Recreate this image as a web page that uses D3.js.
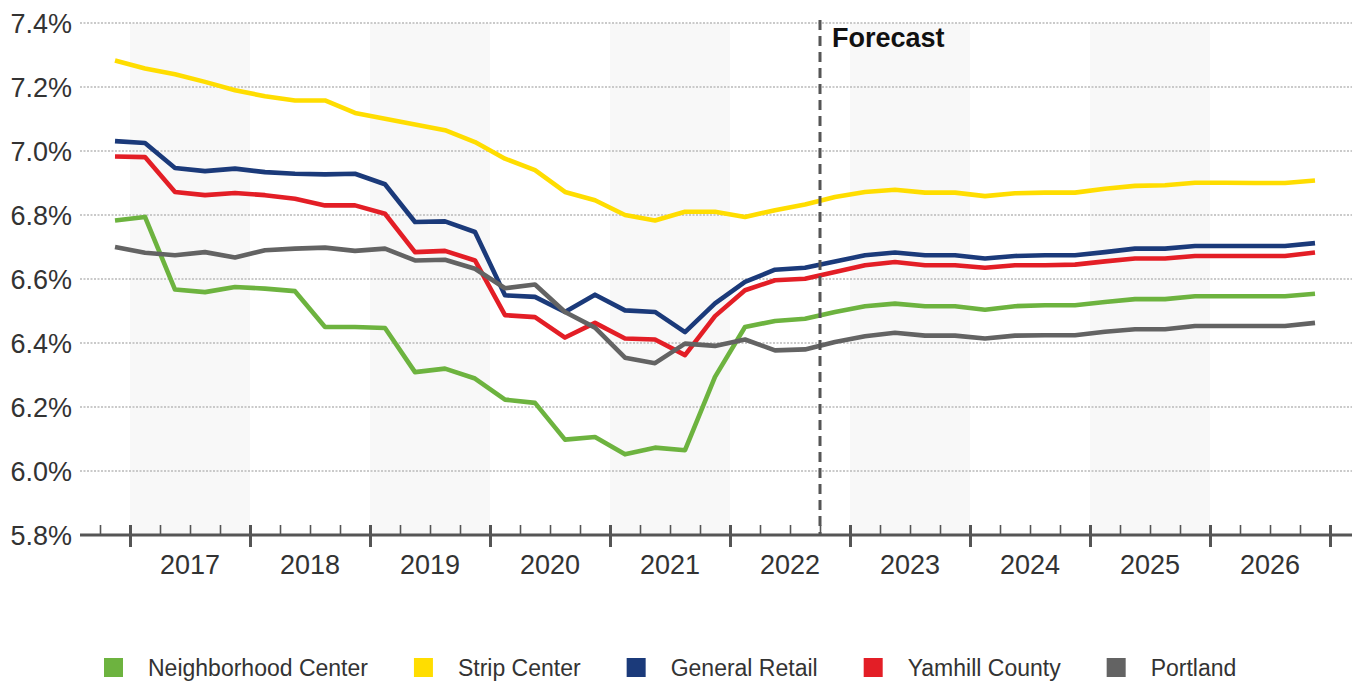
<!DOCTYPE html>
<html>
<head>
<meta charset="utf-8">
<script src="https://cdn.jsdelivr.net/npm/d3@7"></script>
<style>
  html, body { margin: 0; padding: 0; background: #ffffff; }
  svg { display: block; font-family: "Liberation Sans", Arial, Helvetica, sans-serif; }
</style>
</head>
<body>
<svg id="chart" width="1362" height="686"></svg>
<script>
// Quarterly retail cap rates, 2016 Q4 through 2026 Q4 (forecast from 2022 Q4)
const quarters = [
  "2016Q4",
  "2017Q1","2017Q2","2017Q3","2017Q4",
  "2018Q1","2018Q2","2018Q3","2018Q4",
  "2019Q1","2019Q2","2019Q3","2019Q4",
  "2020Q1","2020Q2","2020Q3","2020Q4",
  "2021Q1","2021Q2","2021Q3","2021Q4",
  "2022Q1","2022Q2","2022Q3","2022Q4",
  "2023Q1","2023Q2","2023Q3","2023Q4",
  "2024Q1","2024Q2","2024Q3","2024Q4",
  "2025Q1","2025Q2","2025Q3","2025Q4",
  "2026Q1","2026Q2","2026Q3","2026Q4"
];

const neighborhoodCenter = [
  6.783,
  6.794, 6.567, 6.559, 6.575,
  6.570, 6.562, 6.450, 6.450,
  6.447, 6.309, 6.320, 6.289,
  6.223, 6.213, 6.098, 6.106,
  6.052, 6.073, 6.065, 6.294,
  6.450, 6.469, 6.476, 6.497,
  6.515, 6.523, 6.515, 6.515,
  6.504, 6.515, 6.518, 6.518,
  6.528, 6.537, 6.537, 6.546,
  6.546, 6.546, 6.546, 6.554
];

const stripCenter = [
  7.283,
  7.258, 7.240, 7.216, 7.190,
  7.171, 7.158, 7.158, 7.119,
  7.101, 7.083, 7.065, 7.028,
  6.976, 6.940, 6.872, 6.846,
  6.800, 6.783, 6.810, 6.810,
  6.794, 6.815, 6.833, 6.856,
  6.872, 6.879, 6.870, 6.870,
  6.859, 6.868, 6.870, 6.870,
  6.882, 6.891, 6.893, 6.901,
  6.901, 6.900, 6.900, 6.908
];

const generalRetail = [
  7.031,
  7.025, 6.947, 6.937, 6.945,
  6.934, 6.929, 6.927, 6.929,
  6.896, 6.778, 6.780, 6.747,
  6.549, 6.544, 6.497, 6.551,
  6.502, 6.497, 6.434, 6.524,
  6.591, 6.629, 6.635, 6.655,
  6.674, 6.683, 6.674, 6.674,
  6.664, 6.672, 6.674, 6.674,
  6.684, 6.695, 6.695, 6.703,
  6.703, 6.703, 6.703, 6.712
];

const yamhillCounty = [
  6.983,
  6.981, 6.872, 6.862, 6.869,
  6.862, 6.851, 6.830, 6.830,
  6.804, 6.684, 6.688, 6.658,
  6.487, 6.481, 6.417, 6.463,
  6.414, 6.411, 6.362, 6.484,
  6.565, 6.596, 6.601, 6.622,
  6.643, 6.653, 6.643, 6.643,
  6.635, 6.643, 6.643, 6.645,
  6.655, 6.664, 6.664, 6.672,
  6.672, 6.672, 6.672, 6.683
];

const portland = [
  6.700,
  6.682, 6.674, 6.684, 6.667,
  6.690, 6.695, 6.698, 6.688,
  6.695, 6.658, 6.660, 6.632,
  6.571, 6.583, 6.497, 6.448,
  6.354, 6.337, 6.398, 6.391,
  6.411, 6.377, 6.380, 6.403,
  6.421, 6.432, 6.423, 6.423,
  6.414, 6.423, 6.424, 6.424,
  6.435, 6.443, 6.443, 6.453,
  6.453, 6.453, 6.453, 6.463
];

const seriesNames = ["Neighborhood Center", "Strip Center", "General Retail", "Yamhill County", "Portland"];
const seriesColors = ["#6db33f", "#ffdd00", "#1b3a7a", "#e31e26", "#636363"];
const seriesValues = [neighborhoodCenter, stripCenter, generalRetail, yamhillCounty, portland];

const yTicks = [5.8, 6.0, 6.2, 6.4, 6.6, 6.8, 7.0, 7.2, 7.4];
const yearLabels = ["2017","2018","2019","2020","2021","2022","2023","2024","2025","2026"];
const forecastStart = "2022Q4";
const forecastLabel = "Forecast";

// ---- layout ----
const svg = d3.select("#chart");
const plotLeft = 80, plotRight = 1352, plotTop = 23, plotBottom = 535;

// time expressed as fractional years; a quarter's point sits at its midpoint
const qStart = q => +q.slice(0, 4) + (+q.slice(5) - 1) * 0.25;
const qMid = q => qStart(q) + 0.125;

const x = d3.scaleLinear().domain([2017, 2027]).range([130, 1330]);
const y = d3.scaleLinear().domain([5.8, 7.4]).range([plotBottom, plotTop]);

// alternating year bands (very faint)
const bandYears = yearLabels.filter((d, i) => i % 2 === 0).map(Number);
svg.append("g").selectAll("rect").data(bandYears).join("rect")
  .attr("x", d => x(d))
  .attr("width", d => x(d + 1) - x(d))
  .attr("y", plotTop)
  .attr("height", plotBottom - plotTop)
  .attr("fill", "#f8f8f8");

// horizontal dotted gridlines
svg.append("g").selectAll("line").data(yTicks.slice(1)).join("line")
  .attr("x1", plotLeft).attr("x2", plotRight)
  .attr("y1", d => y(d)).attr("y2", d => y(d))
  .attr("stroke", "#b9b9b9")
  .attr("stroke-width", 1.5)
  .attr("stroke-dasharray", "2,1.5");

// y axis labels
const yAxis = d3.axisLeft(y).tickValues(yTicks).tickSize(0).tickPadding(0)
  .tickFormat(d => d3.format(".1f")(d) + "%");
const yg = svg.append("g").attr("transform", `translate(${plotLeft - 8},0)`).call(yAxis);
yg.select(".domain").remove();
yg.selectAll("text")
  .attr("fill", "#333")
  .attr("font-size", 27)
  .attr("dy", "0.36em")
  .style("font-family", "'Liberation Sans', Arial, sans-serif");

// x axis: baseline, quarter ticks, year ticks
const xMinorVals = d3.range(2016.75, 2027.01, 0.25).filter(t => Math.abs(t - Math.round(t)) > 1e-6);
const xMajorVals = d3.range(2017, 2027.01, 1);

const xMinor = d3.axisBottom(x).tickValues(xMinorVals).tickSize(-10).tickFormat("");
const gm = svg.append("g").attr("transform", `translate(0,${plotBottom})`).call(xMinor);
gm.select(".domain").remove();
gm.selectAll("line").attr("stroke", "#555").attr("stroke-width", 1.6);

svg.append("line")
  .attr("x1", plotLeft).attr("x2", plotRight)
  .attr("y1", plotBottom).attr("y2", plotBottom)
  .attr("stroke", "#555").attr("stroke-width", 3);

const xMajor = d3.axisBottom(x).tickValues(xMajorVals).tickSize(12).tickFormat("");
const gM = svg.append("g").attr("transform", `translate(0,${plotBottom})`).call(xMajor);
gM.select(".domain").remove();
gM.selectAll("line").attr("stroke", "#555").attr("stroke-width", 3).attr("y1", -10);

svg.append("g").selectAll("text").data(yearLabels).join("text")
  .attr("x", d => x(+d + 0.5))
  .attr("y", 574)
  .attr("text-anchor", "middle")
  .attr("font-size", 27)
  .attr("fill", "#333")
  .text(d => d);

// series lines
const line = d3.line()
  .x((d, i) => x(qMid(quarters[i])))
  .y(d => y(d));

svg.append("g").selectAll("path").data(seriesValues).join("path")
  .attr("d", d => line(d))
  .attr("fill", "none")
  .attr("stroke", (d, i) => seriesColors[i])
  .attr("stroke-width", 4.6)
  .attr("stroke-linejoin", "round")
  .attr("stroke-linecap", "butt");

// forecast divider
const fx = x(qStart(forecastStart));
svg.append("line")
  .attr("x1", fx).attr("x2", fx)
  .attr("y1", 20).attr("y2", plotBottom)
  .attr("stroke", "#555")
  .attr("stroke-width", 3)
  .attr("stroke-dasharray", "10,6");
svg.append("text")
  .attr("x", fx + 12).attr("y", 47)
  .attr("font-size", 27)
  .attr("font-weight", "bold")
  .attr("fill", "#111")
  .text(forecastLabel);

// legend
const legend = svg.append("g");
let lx = 104;
seriesNames.forEach((name, i) => {
  legend.append("rect")
    .attr("x", lx).attr("y", 658)
    .attr("width", 19).attr("height", 19)
    .attr("fill", seriesColors[i]);
  const t = legend.append("text")
    .attr("x", lx + 44).attr("y", 676)
    .attr("font-size", 23)
    .attr("fill", "#333")
    .text(name);
  lx += 44 + t.node().getComputedTextLength() + 46;
});
</script>
</body>
</html>
